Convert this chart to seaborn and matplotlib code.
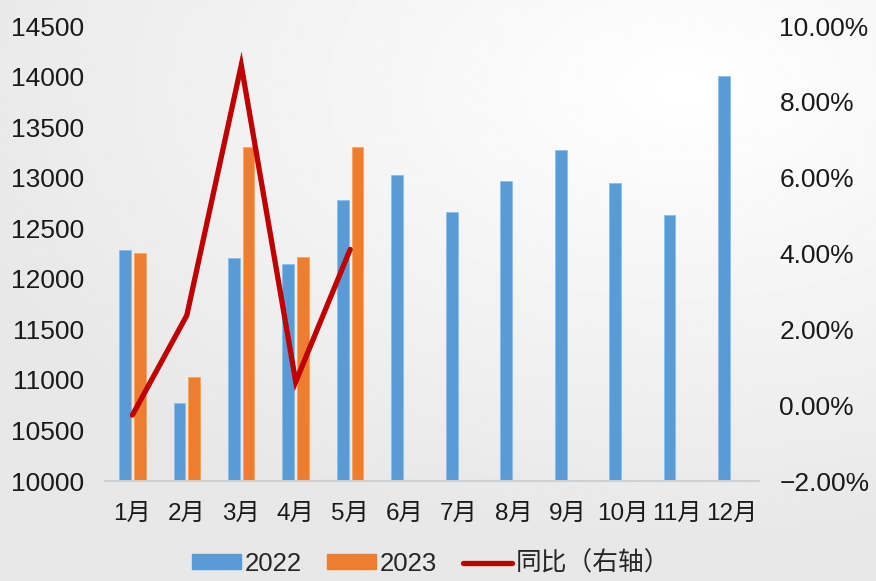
import numpy as np
import pandas as pd
import matplotlib.pyplot as plt
import seaborn as sns
from matplotlib.patches import Patch
from matplotlib.lines import Line2D

sns.set_style("white")
plt.rcParams['font.family'] = ['Liberation Sans', 'Noto Sans CJK SC', 'DejaVu Sans']
plt.rcParams['axes.unicode_minus'] = True

months = ["1月", "2月", "3月", "4月", "5月", "6月", "7月", "8月", "9月", "10月", "11月", "12月"]
sales_2022 = [12290, 10770, 12205, 12145, 12780, 13025, 12660, 12970, 13275, 12945, 12635, 14005]
sales_2023 = [12260, 11025, 13300, 12220, 13305]
yoy = [-0.26, 2.37, 8.97, 0.62, 4.11]  # %

blue = "#5B9BD5"
orange = "#ED7D31"
red = "#C00000"

rows = []
for m, v in zip(months, sales_2022):
    rows.append({"月份": m, "年份": "2022", "值": v})
for m, v in zip(months, sales_2023):
    rows.append({"月份": m, "年份": "2023", "值": v})
df = pd.DataFrame(rows)

fig = plt.figure(figsize=(8.76, 5.81), dpi=100)

# light gray background gradient
bg = fig.add_axes([0, 0, 1, 1], zorder=-10)
yy, xx = np.mgrid[0:1:300j, 0:1:400j]
dist = np.sqrt(((xx - 0.78) / 1.0) ** 2 + ((yy - 0.15) / 0.9) ** 2)
shade = 1.0 - 0.09 * np.clip(dist / 0.85, 0, 1)
bg.imshow(shade, cmap="gray", vmin=0, vmax=1, aspect="auto", extent=[0, 1, 1, 0])
bg.axis("off")

ax = fig.add_axes([0.12, 0.172, 0.746, 0.783])
ax.patch.set_alpha(0)
sns.barplot(data=df, x="月份", y="值", hue="年份", order=months,
            palette=[blue, orange], width=0.54, gap=0.2, ax=ax,
            saturation=1, legend=False)
for bar in ax.patches:
    fc = bar.get_facecolor()
    bar.set_edgecolor(tuple(min(1, c + 0.15) for c in fc[:3]))
    bar.set_linewidth(0.6)
ax.set_ylim(10000, 14500)
ax.set_yticks(np.arange(10000, 14501, 500))
ax.set_xlim(-0.5, 11.5)
ax.set_xlabel("")
ax.set_ylabel("")
for s in ["top", "right", "left"]:
    ax.spines[s].set_visible(False)
ax.spines["bottom"].set_color("#d0d0d0")
ax.spines["bottom"].set_linewidth(1.5)
ax.tick_params(axis="y", length=0, labelsize=19, colors="#1a1a1a", pad=15)
ax.tick_params(axis="x", length=0, labelsize=17.5, colors="#1a1a1a", pad=16)

ax2 = ax.twinx()
sns.lineplot(x=np.arange(len(yoy)), y=yoy, color=red, linewidth=3.8, ax=ax2,
             solid_capstyle="round", solid_joinstyle="miter")
ax2.set_ylim(-2, 10)
ax2.set_yticks(np.arange(-2, 10.01, 2))
ax2.set_yticklabels([f"{v:.2f}%".replace("-", "\u2212") for v in np.arange(-2, 10.01, 2)])
for s in ["top", "right", "left", "bottom"]:
    ax2.spines[s].set_visible(False)
ax2.tick_params(axis="y", length=0, labelsize=19, colors="#1a1a1a", pad=15)

handles = [Patch(color=blue, label="2022"),
           Patch(color=orange, label="2023"),
           Line2D([0], [0], color=red, lw=3.8, solid_capstyle="round", label="同比（右轴）")]
fig.legend(handles=handles, loc="center", bbox_to_anchor=(0.492, 0.03), ncol=3,
           frameon=False, fontsize=18.5, handlelength=1.9, handleheight=0.5,
           columnspacing=1.0, handletextpad=0.15, borderpad=0.1)

fig.savefig("out.png", dpi=100)
